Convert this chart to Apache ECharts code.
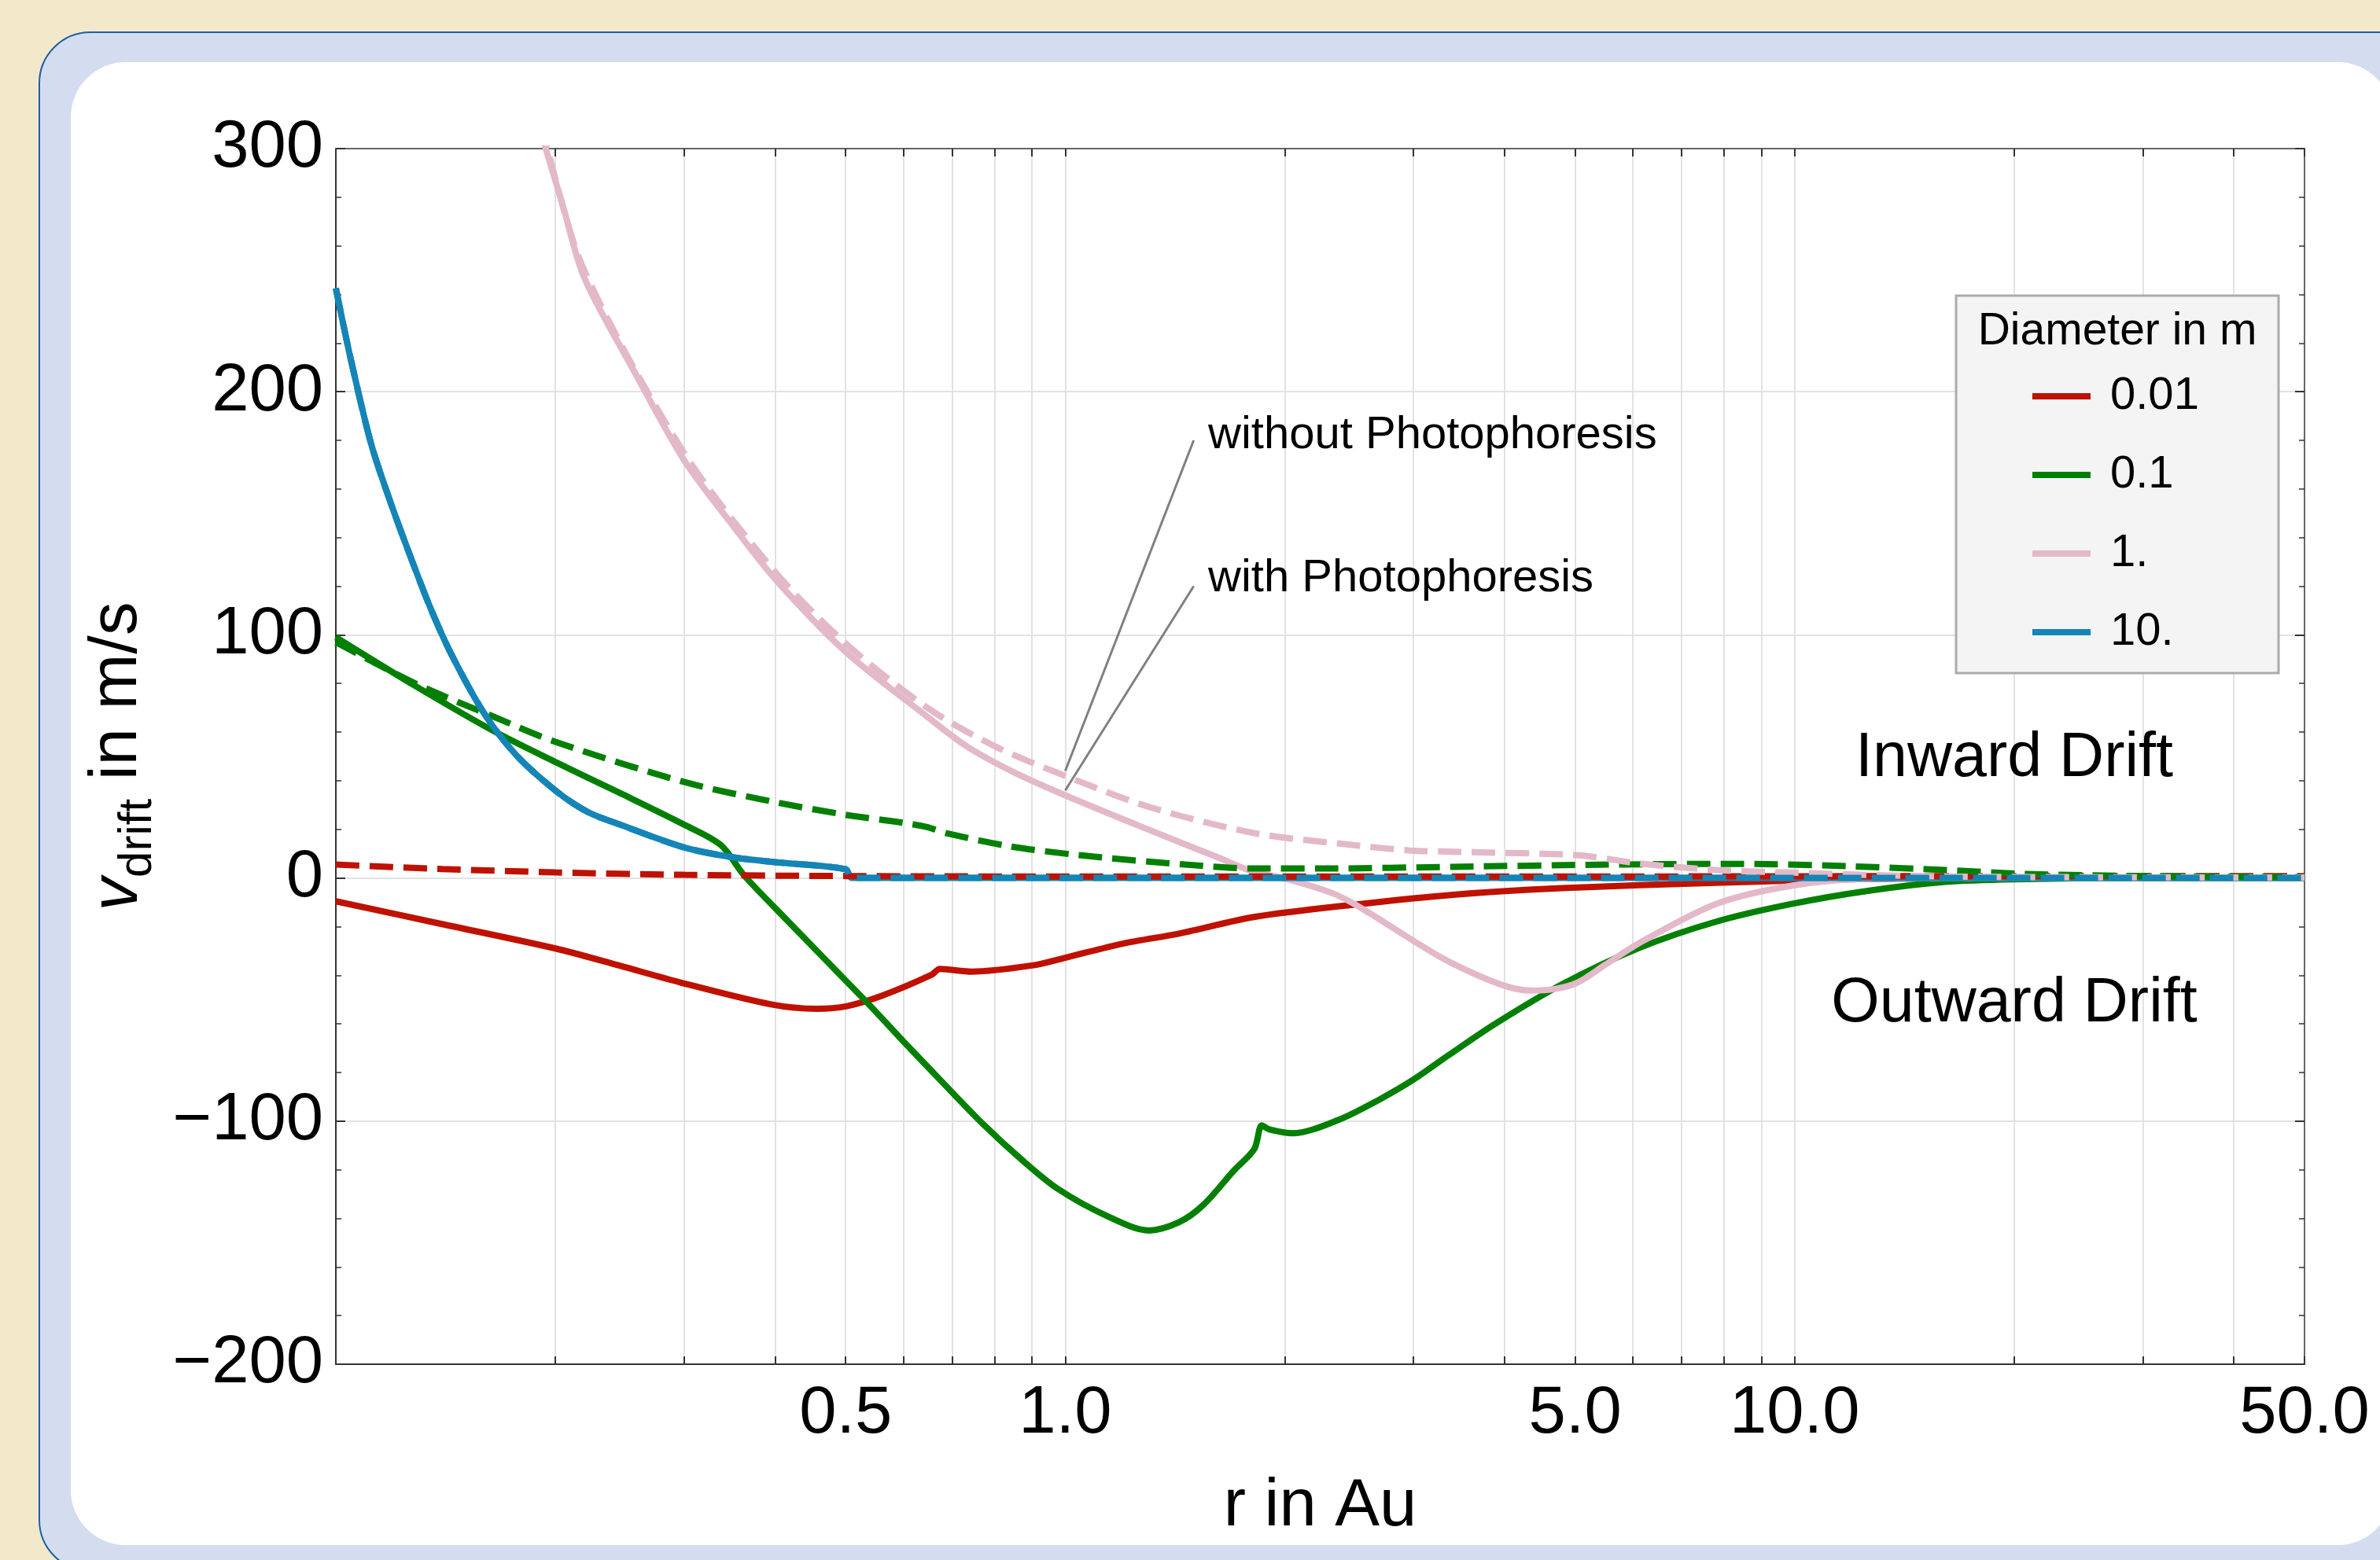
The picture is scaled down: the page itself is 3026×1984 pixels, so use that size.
<!DOCTYPE html>
<html>
<head>
<meta charset="utf-8">
<title>Drift velocity</title>
<script src="https://cdn.jsdelivr.net/npm/echarts@6/dist/echarts.min.js"></script>
<style>
  html, body { margin: 0; padding: 0; background: #F2E9CB; }
  #chart { width: 3026px; height: 1984px; }
</style>
</head>
<body>
<div id="chart"></div>
<script>
// [r in Au, v_drift in m/s]
const red001With = [[0.1,-9.6],[0.139,-18.8],[0.2,-29],[0.2445,-36],[0.297,-43],[0.395,-52],[0.457,-53.8],[0.502,-52.7],[0.561,-48.4],[0.656,-39.8],[0.673,-37.4],[0.744,-38.5],[0.9,-36],[1.0,-32.8],[1.2,-27],[1.436,-22.8],[1.82,-16],[2.54,-10.7],[3.4,-6.9],[4.8,-4.2],[7.8,-2],[12.6,-0.4],[20,-0.1],[50,0]];
const red001Without = [[0.1,5.5],[0.14,3.7],[0.2,2.3],[0.3,1.3],[0.5,0.8],[1,0.6],[5,0.6],[10,0.7],[20,0.8],[50,0.8]];

const green01With = [[0.1,99],[0.1285,79],[0.1656,60],[0.2,47.7],[0.245,35],[0.3,22],[0.337,13.6],[0.363,1],[0.4,-12.3],[0.534,-51],[0.6,-67.2],[0.676,-83.5],[0.77,-101],[0.874,-116.2],[0.976,-127.8],[1.14,-139],[1.302,-145],[1.43,-141.7],[1.545,-134.6],[1.7,-120.6],[1.816,-111.5],[1.86,-101.8],[1.905,-103.4],[2.05,-105],[2.37,-99.5],[2.69,-91.3],[3.0,-83],[3.35,-73],[3.87,-60.3],[4.8,-43.7],[6.12,-28.8],[7.8,-18],[9.9,-10.7],[12.6,-5.3],[16.1,-1.6],[20,-0.5],[30,0],[50,0]];
const green01Without = [[0.1,97],[0.1285,80],[0.1656,66],[0.2,56],[0.3,39.5],[0.4,31.2],[0.5,26],[0.6,22.7],[0.645,21],[0.687,18.4],[0.84,13],[1.045,9.4],[1.46,5.5],[1.82,3.9],[2.28,3.9],[3.4,4.6],[5.55,5.5],[8.5,5.8],[12,4.8],[16.1,3.3],[20.5,1.7],[30,0.8],[50,0.4]];

const pink1With = [[0.185,322],[0.194,300],[0.205,276],[0.219,247],[0.2547,210],[0.3,172],[0.35,145],[0.4,123],[0.5,93],[0.647,66.3],[0.734,54],[0.85,43.5],[1.0,34],[1.31,19.5],[1.6,9.1],[1.82,2.3],[1.99,0],[2.33,-6.4],[2.56,-12.8],[2.97,-25],[3.35,-34.3],[3.97,-44],[4.36,-46.3],[4.7,-45.6],[5.04,-43],[5.5,-35.7],[6.12,-26.8],[7.8,-10.7],[9.9,-3.2],[12.6,-0.3],[20,0],[50,0]];
const pink1Without = [[0.185,323],[0.194,302],[0.219,250],[0.3,175],[0.4,126],[0.5,96.5],[0.647,70],[0.803,54],[1.0,42],[1.31,29],[1.82,18.4],[2.4,14],[2.97,11.3],[3.4,10.8],[4.8,9.7],[5.3,8.7],[6.1,6],[7.8,3.3],[9.9,2.2],[16,0.6],[50,0.2]];

const blue10With = [[0.1,242.6],[0.1048,213.5],[0.1118,178.5],[0.119,154],[0.127,131],[0.135,110.6],[0.144,92],[0.1595,68],[0.1764,50.8],[0.2,36],[0.2213,27.2],[0.245,22],[0.3,12.6],[0.35,8.5],[0.4,6.5],[0.5,3.6],[0.51,0],[50,0]];
// the dashed 10 m curve lies right on top of the solid one
const blue10Without = blue10With;

const rTicks = [0.2,0.3,0.4,0.5,0.6,0.7,0.8,0.9,1,2,3,4,5,6,7,8,9,10,20,30,40,50];
const rLabels = [0.5, 1, 5, 10, 50];
const diameters = ['0.01', '0.1', '1.', '10.'];

const FONT = '"Liberation Sans", Arial, sans-serif';
const RED = '#BF1100', GREEN = '#038003', PINK = '#E3B9C9', BLUE = '#1485B6';

function line(name, data, color, dashed) {
    return {
        name: name,
        type: 'line',
        data: data,
        color: color,
        symbol: 'none',
        showSymbol: false,
        silent: true,
        smooth: 0.3,
        lineStyle: {color: color, width: 8, type: dashed ? [30, 13] : 'solid'},
        emphasis: {disabled: true}
    };
}

const chart = echarts.init(document.getElementById('chart'));

const pinkDashed = line('1. without', pink1Without, PINK, true);
pinkDashed.markLine = {
    silent: true,
    symbol: ['none', 'arrow'],
    symbolSize: [0, [13, 26]],
    label: {show: false},
    lineStyle: {color: '#808080', width: 3, type: 'solid'},
    emphasis: {disabled: true},
    animation: false,
    data: [
        [{coord: [1.5, 180]}, {coord: [1.0, 44]}],
        [{coord: [1.5, 120]}, {coord: [1.0, 36]}]
    ]
};

const axisColor = '#333';
const frameColor = '#666';

let option = {
    backgroundColor: '#F2E9CB',
    animation: false,
    grid: {left: 427, right: 96, top: 189, bottom: 249},
    legend: {
        data: diameters,
        orient: 'vertical',
        left: 2579,
        top: 469,
        itemWidth: 74,
        itemHeight: 8,
        itemGap: 40,
        icon: 'rect',
        selectedMode: false,
        z: 6,
        textStyle: {fontSize: 58, lineHeight: 60, color: '#000', fontFamily: FONT, padding: [0, 0, 0, 20]}
    },
    xAxis: [
        {
            type: 'log',
            logBase: 10,
            min: 0.1,
            max: 50,
            name: 'r in Au',
            nameLocation: 'middle',
            nameGap: 139,
            nameTextStyle: {fontSize: 85, lineHeight: 85, color: '#000', fontFamily: FONT},
            axisLine: {show: true, onZero: false, lineStyle: {color: axisColor, width: 2}},
            axisTick: {show: true, inside: true, length: 10, customValues: rTicks, lineStyle: {color: axisColor, width: 2}},
            axisLabel: {
                customValues: rLabels,
                formatter: function (v) { return Number(v).toFixed(1); },
                fontSize: 85, lineHeight: 85, margin: 21, color: '#000', fontFamily: FONT
            },
            splitLine: {show: true, lineStyle: {color: '#E2E2E2', width: 2}},
            minorTick: {show: false},
            minorSplitLine: {show: false}
        },
        {
            type: 'log',
            logBase: 10,
            min: 0.1,
            max: 50,
            position: 'top',
            axisLine: {show: true, onZero: false, lineStyle: {color: frameColor, width: 2}},
            axisTick: {show: true, inside: true, length: 10, customValues: rTicks, lineStyle: {color: axisColor, width: 2}},
            axisLabel: {show: false},
            splitLine: {show: false}
        }
    ],
    yAxis: [
        {
            type: 'value',
            min: -200,
            max: 300,
            interval: 100,
            name: '{v|v}{s|drift}{t| in m/s}',
            nameLocation: 'middle',
            nameRotate: 90,
            nameGap: 222,
            nameTextStyle: {
                color: '#000',
                rich: {
                    v: {fontFamily: FONT, fontSize: 85, fontStyle: 'italic', lineHeight: 110, verticalAlign: 'middle', color: '#000'},
                    s: {fontFamily: FONT, fontSize: 60, lineHeight: 50, verticalAlign: 'bottom', color: '#000'},
                    t: {fontFamily: FONT, fontSize: 85, lineHeight: 110, verticalAlign: 'middle', color: '#000'}
                }
            },
            axisLine: {show: true, onZero: false, lineStyle: {color: axisColor, width: 2}},
            axisTick: {show: true, inside: true, length: 12, lineStyle: {color: axisColor, width: 2}},
            minorTick: {show: true, splitNumber: 5, length: 7, lineStyle: {color: axisColor, width: 1.5}},
            axisLabel: {
                fontSize: 85, margin: 16, color: '#000', fontFamily: FONT,
                formatter: function (v) { return v < 0 ? '\u2212' + (-v) : String(v); }
            },
            splitLine: {show: true, lineStyle: {color: '#E2E2E2', width: 2}}
        },
        {
            type: 'value',
            min: -200,
            max: 300,
            interval: 100,
            position: 'right',
            axisLine: {show: true, onZero: false, lineStyle: {color: frameColor, width: 2}},
            axisTick: {show: true, inside: true, length: 12, lineStyle: {color: axisColor, width: 2}},
            minorTick: {show: true, splitNumber: 5, length: 7, lineStyle: {color: axisColor, width: 1.5}},
            axisLabel: {show: false},
            splitLine: {show: false}
        }
    ],
    graphic: {
        elements: [
            {type: 'rect', id: 'panel', z: -10, silent: true,
             shape: {x: 50, y: 41, width: 3100, height: 1957, r: 65},
             style: {fill: '#D4DDEF', stroke: '#1D5FA5', lineWidth: 2}},
            {type: 'rect', id: 'card', z: -9, silent: true,
             shape: {x: 90, y: 79, width: 2952, height: 1886, r: 70},
             style: {fill: '#FFFFFF'}},
            {type: 'rect', id: 'legendBox', z: 5, silent: true,
             shape: {x: 2487, y: 376, width: 410, height: 480},
             style: {fill: '#F4F4F4', stroke: '#ABABAB', lineWidth: 3}},
            {type: 'text', id: 'legendTitle', z: 6, silent: true, x: 2692, y: 422,
             style: {text: 'Diameter in m', fontSize: 57, fontFamily: FONT, fill: '#000',
                     align: 'center', verticalAlign: 'middle', textAlign: 'center', textVerticalAlign: 'middle'}}
        ]
    },
    series: [
        line('0.01', red001With, RED, false),
        line('0.1', green01With, GREEN, false),
        line('1.', pink1With, PINK, false),
        line('10.', blue10With, BLUE, false),
        line('0.01 without', red001Without, RED, true),
        line('0.1 without', green01Without, GREEN, true),
        pinkDashed,
        line('10. without', blue10Without, BLUE, true)
    ]
};

chart.setOption(option);

// text notes, placed in data space
function px(r, v) {
    return chart.convertToPixel({xAxisIndex: 0, yAxisIndex: 0}, [r, v]);
}
function note(id, text, at, size, align) {
    const p = px(at[0], at[1]);
    return {
        type: 'text', id: id, z: 6, silent: true, x: p[0], y: p[1],
        style: {text: text, fontSize: size, fontFamily: FONT, fill: '#000',
                align: align, verticalAlign: 'middle', textAlign: align, textVerticalAlign: 'middle'}
    };
}
chart.setOption({
    graphic: {
        elements: [
            note('noteWithout', 'without Photophoresis', [1.57, 182], 58, 'left'),
            note('noteWith', 'with Photophoresis', [1.57, 123], 58, 'left'),
            note('inward', 'Inward Drift', [20, 49], 79, 'center'),
            note('outward', 'Outward Drift', [20, -52], 79, 'center')
        ]
    }
});

window.addEventListener('resize', function () {
    chart.resize();
});
</script>
</body>
</html>
